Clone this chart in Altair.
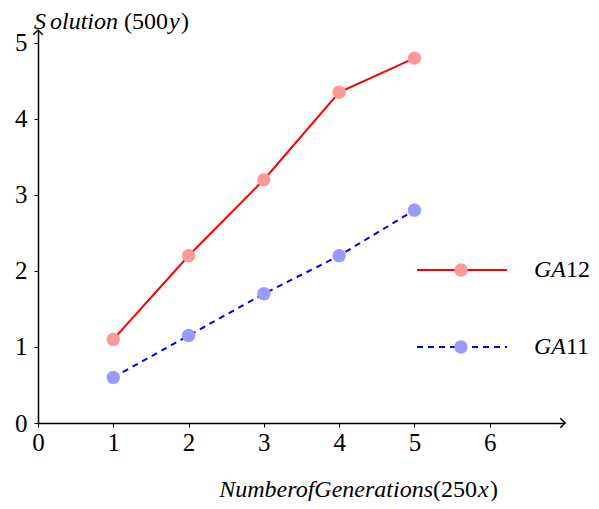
import altair as alt
import pandas as pd

generations = [1, 2, 3, 4, 5]
ga12 = [1.1, 2.2, 3.2, 4.35, 4.8]
ga11 = [0.6, 1.15, 1.7, 2.2, 2.8]
x_ticks = [0, 1, 2, 3, 4, 5, 6]
y_ticks = [0, 1, 2, 3, 4, 5]

FONT = "Liberation Serif"
FS = 25
TS = 24
W, H = 527, 393

df12 = pd.DataFrame({"g": generations, "v": ga12})
df11 = pd.DataFrame({"g": generations, "v": ga11})
one = pd.DataFrame({"a": [0]})

xs = alt.Scale(domain=[0, 7], nice=False, zero=False)
ys = alt.Scale(domain=[0, 5.17], nice=False, zero=False)

xax = alt.Axis(values=x_ticks, format="d", title=None, grid=False, domainColor="black", domainWidth=1.5,
               tickColor="black", tickSize=4, tickWidth=1, labelFont=FONT, labelFontSize=FS,
               labelColor="black", labelPadding=3, labelFlush=False)
yax = alt.Axis(values=y_ticks, format="d", title=None, grid=False, domainColor="black", domainWidth=1.5,
               tickColor="black", tickSize=4, tickWidth=1, labelFont=FONT, labelFontSize=FS,
               labelColor="black", labelPadding=7, labelFlush=False)

base_axes = alt.Chart(one).mark_point(opacity=0).encode(
    x=alt.X("a:Q", scale=xs, axis=xax),
    y=alt.Y("a:Q", scale=ys, axis=yax),
)

line12 = alt.Chart(df12).mark_line(color="#ff0000", strokeWidth=2).encode(
    x=alt.X("g:Q", scale=xs), y=alt.Y("v:Q", scale=ys))
pts12 = alt.Chart(df12).mark_circle(color="#ff9999", opacity=1, size=180).encode(
    x=alt.X("g:Q", scale=xs), y=alt.Y("v:Q", scale=ys))
line11 = alt.Chart(df11).mark_line(color="#0000ff", strokeWidth=2, strokeDash=[6, 5]).encode(
    x=alt.X("g:Q", scale=xs), y=alt.Y("v:Q", scale=ys))
pts11 = alt.Chart(df11).mark_circle(color="#9999ff", opacity=1, size=180).encode(
    x=alt.X("g:Q", scale=xs), y=alt.Y("v:Q", scale=ys))

arrow_r = alt.Chart(one).mark_point(shape="M -1 -1 L 0 0 L -1 1", filled=False, color="black",
                                     strokeWidth=1.5, size=90, opacity=1).encode(
    x=alt.value(W), y=alt.value(H))
arrow_u = alt.Chart(one).mark_point(shape="M -1 1 L 0 0 L 1 1", filled=False, color="black",
                                     strokeWidth=1.5, size=90, opacity=1).encode(
    x=alt.value(0), y=alt.value(0))

# legend
leg_line12 = alt.Chart(one).mark_rule(color="#ff0000", strokeWidth=2).encode(
    x=alt.value(379), x2=alt.value(469), y=alt.value(240))
leg_pt12 = alt.Chart(one).mark_circle(color="#ff9999", opacity=1, size=180).encode(
    x=alt.value(423), y=alt.value(240))
leg_line11 = alt.Chart(one).mark_rule(color="#0000ff", strokeWidth=2, strokeDash=[6, 5]).encode(
    x=alt.value(379), x2=alt.value(469), y=alt.value(317))
leg_pt11 = alt.Chart(one).mark_circle(color="#9999ff", opacity=1, size=180).encode(
    x=alt.value(423), y=alt.value(317))


def txt(s, x, y, italic=False, align="left"):
    return alt.Chart(one).mark_text(text=s, font=FONT, fontSize=TS, color="black",
                                    fontStyle="italic" if italic else "normal",
                                    align=align, baseline="middle").encode(
        x=alt.value(x), y=alt.value(y))


texts = [
    txt("GA", 496, 240, True), txt("12", 528, 240),
    txt("GA", 496, 317, True), txt("11", 528, 317),
    txt("S", -4, -8, True), txt("olution", 12, -8, True), txt("(500", 86, -8),
    txt("y", 131, -8, True), txt(")", 143, -8),
    txt("NumberofGenerations", 395, 460, True, "right"), txt("(250", 395, 460),
    txt("x", 440, 460, True), txt(")", 452, 460),
]

chart = alt.layer(base_axes, line12, line11, pts12, pts11, arrow_r, arrow_u,
                  leg_line12, leg_line11, leg_pt12, leg_pt11, *texts).properties(
    width=W, height=H,
    autosize=alt.AutoSizeParams(type="none"),
    padding={"left": 30, "top": 22, "right": 26, "bottom": 78},
).configure_view(stroke=None)

chart.save("out.html", embed_options={"renderer": "svg", "actions": False})
